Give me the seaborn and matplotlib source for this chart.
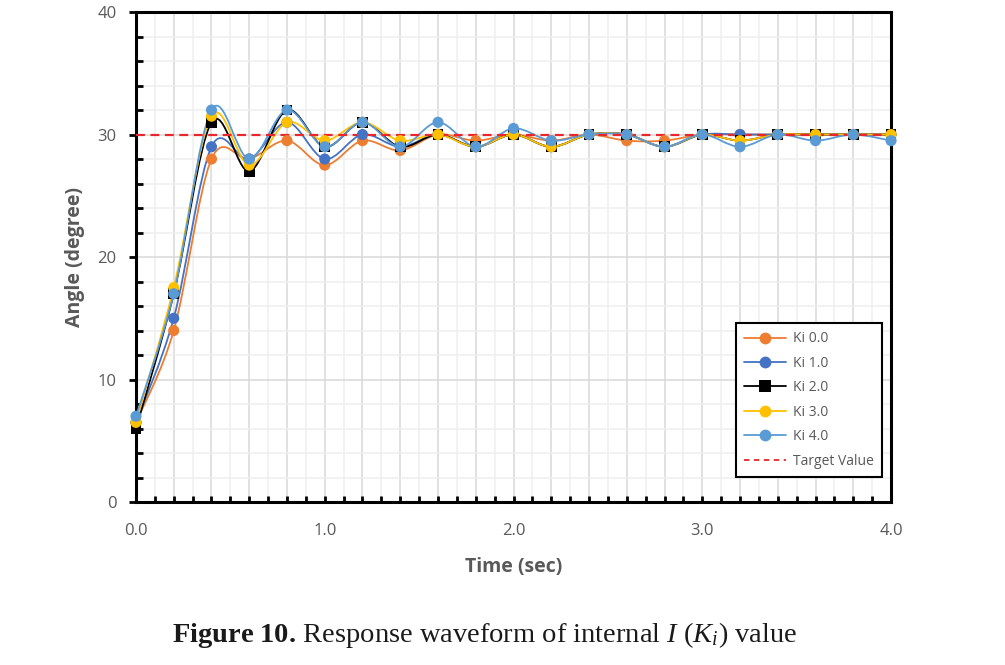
import numpy as np
import pandas as pd
import matplotlib
matplotlib.use("Agg")
import matplotlib.pyplot as plt
from matplotlib.path import Path
from matplotlib.patches import PathPatch
from matplotlib.lines import Line2D
from matplotlib.ticker import MultipleLocator, FuncFormatter
import seaborn as sns

# ---------------- data ----------------
time_s = [0.0, 0.2, 0.4, 0.6, 0.8, 1.0, 1.2, 1.4, 1.6, 1.8, 2.0,
          2.2, 2.4, 2.6, 2.8, 3.0, 3.2, 3.4, 3.6, 3.8, 4.0]
ki_0 = [6.5, 14.0, 28.0, 28.0, 29.5, 27.5, 29.5, 28.7, 30.0, 29.5, 30.0,
        29.5, 30.0, 29.5, 29.5, 30.0, 30.0, 30.0, 30.0, 30.0, 30.0]
ki_1 = [6.5, 15.0, 29.0, 28.0, 31.0, 28.0, 30.0, 29.0, 30.0, 29.0, 30.0,
        29.0, 30.0, 30.0, 29.0, 30.0, 30.0, 30.0, 30.0, 30.0, 30.0]
ki_2 = [6.0, 17.0, 31.0, 27.0, 32.0, 29.0, 31.0, 29.0, 30.0, 29.0, 30.0,
        29.0, 30.0, 30.0, 29.0, 30.0, 29.5, 30.0, 30.0, 30.0, 30.0]
ki_3 = [6.5, 17.5, 31.5, 27.5, 31.0, 29.5, 31.0, 29.5, 30.0, 29.0, 30.0,
        29.0, 30.0, 30.0, 29.0, 30.0, 29.5, 30.0, 30.0, 30.0, 30.0]
ki_4 = [7.0, 17.0, 32.0, 28.0, 32.0, 29.0, 31.0, 29.0, 31.0, 29.0, 30.5,
        29.5, 30.0, 30.0, 29.0, 30.0, 29.0, 30.0, 29.5, 30.0, 29.5]
series_names = ["Ki 0.0", "Ki 1.0", "Ki 2.0", "Ki 3.0", "Ki 4.0"]
target_value = 30.0
target_label = "Target Value"
x_label = "Time (sec)"
y_label = "Angle (degree)"
caption = r"$\mathbf{Figure\ 10.}\,$Response waveform of internal $I$ ($K_{i}$) value"

# ---------------- styles ----------------
colors = ["#ED7D31", "#4472C4", "#000000", "#FFC000", "#5B9BD5"]
markers = ["o", "o", "s", "o", "o"]

sns.set_theme(style="white")
plt.rcParams["font.family"] = ["Open Sans", "DejaVu Sans"]
plt.rcParams["mathtext.fontset"] = "custom"
plt.rcParams["mathtext.rm"] = "Liberation Serif"
plt.rcParams["mathtext.it"] = "Liberation Serif:italic"
plt.rcParams["mathtext.bf"] = "Liberation Serif:bold"

df = pd.DataFrame({"time": time_s * 5,
                   "angle": ki_0 + ki_1 + ki_2 + ki_3 + ki_4,
                   "series": sum([[n] * len(time_s) for n in series_names], [])})

fig = plt.figure(figsize=(10.05, 6.65), dpi=100)
ax = fig.add_axes([0.1353, 0.2451, 0.7513, 0.7368])


def smooth_path(xs, ys):
    """Excel-style smoothed line: cubic Bezier segments through the data points."""
    pts = np.column_stack([xs, ys]).astype(float)
    n = len(pts)
    verts = [pts[0]]
    codes = [Path.MOVETO]
    for i in range(n - 1):
        p0 = pts[i - 1] if i > 0 else pts[i]
        p1 = pts[i]
        p2 = pts[i + 1]
        p3 = pts[i + 2] if i + 2 < n else pts[i + 1]
        c1 = p1 + (p2 - p0) / 6.0
        c2 = p2 - (p3 - p1) / 6.0
        verts += [c1, c2, p2]
        codes += [Path.CURVE4] * 3
    return Path(verts, codes)


for k, name in enumerate(series_names):
    sub = df[df["series"] == name]
    patch = PathPatch(smooth_path(sub["time"].values, sub["angle"].values),
                      facecolor="none", edgecolor=colors[k], lw=1.3,
                      zorder=3 + k * 0.1)
    ax.add_patch(patch)

ax.axhline(target_value, color="#E8262B", lw=1.6, ls=(0, (4, 2.5)), zorder=3.8)

for k, name in enumerate(series_names):
    sub = df[df["series"] == name]
    sns.scatterplot(data=sub, x="time", y="angle", ax=ax, color=colors[k],
                    marker=markers[k], s=64 if markers[k] == "o" else 58,
                    edgecolor="none", linewidth=0, zorder=4 + k * 0.1,
                    legend=False, clip_on=False)

# ---------------- axes ----------------
ax.set_xlim(0, 4.0)
ax.set_ylim(0, 40)
ax.xaxis.set_major_locator(MultipleLocator(0.2))
ax.xaxis.set_minor_locator(MultipleLocator(0.1))
ax.yaxis.set_major_locator(MultipleLocator(10))
ax.yaxis.set_minor_locator(MultipleLocator(2))
ax.xaxis.set_major_formatter(FuncFormatter(
    lambda v, p: f"{v:.1f}" if abs(v - round(v)) < 1e-6 else ""))
ax.yaxis.set_major_formatter(FuncFormatter(lambda v, p: f"{v:.0f}"))

ax.grid(which="major", color="#D9D9D9", lw=1.1)
ax.grid(which="minor", color="#EFEFEF", lw=1.1)
ax.set_axisbelow(True)

for sp in ax.spines.values():
    sp.set_visible(True)
    sp.set_color("black")
    sp.set_linewidth(2.2)

ax.tick_params(axis="x", which="both", direction="in", length=4, width=2,
               color="black", labelsize=12, labelcolor="#595959", pad=15,
               bottom=True, top=False)
ax.tick_params(axis="y", which="major", direction="out", length=5, width=2,
               color="black", labelsize=12, labelcolor="#595959", pad=9,
               left=True, right=False)
ax.tick_params(axis="y", which="minor", direction="in", length=5, width=2,
               color="black", left=True, right=False)

ax.set_xlabel(x_label, fontsize=14, fontweight="bold", color="#595959", labelpad=13)
ax.set_ylabel(y_label, fontsize=14, fontweight="bold", color="#595959", labelpad=9)

handles = [Line2D([0], [0], color=colors[k], lw=1.3, marker=markers[k],
                  markersize=8.5 if markers[k] == "o" else 8,
                  markeredgewidth=0) for k in range(5)]
handles.append(Line2D([0], [0], color="#E8262B", lw=1.3, ls=(0, (3, 2.5))))
leg = ax.legend(handles, series_names + [target_label], loc="lower right",
                bbox_to_anchor=(0.988, 0.051), borderaxespad=0, fontsize=10,
                frameon=True, fancybox=False, edgecolor="black", framealpha=1,
                handlelength=3.0, labelspacing=0.68, borderpad=0.6,
                handletextpad=0.5, labelcolor="#595959")
leg.get_frame().set_linewidth(1.5)
leg.set_zorder(10)

fig.text(0.4826, 0.045, caption, ha="center", va="center", fontsize=20.5,
         color="#1a1a1a", family="Liberation Serif")

fig.savefig("out.png", dpi=100)
